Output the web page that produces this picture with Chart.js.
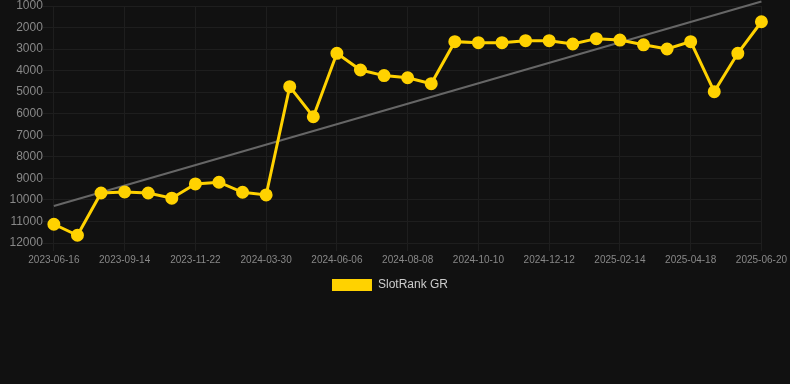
<!DOCTYPE html>
<html>
<head>
<meta charset="utf-8">
<script src="https://cdn.jsdelivr.net/npm/chart.js@4/dist/chart.umd.min.js"></script>
<style>
  html, body { margin: 0; padding: 0; background: #111111; }
  #wrap { width: 790px; height: 301px; position: relative; }
</style>
</head>
<body>
<div id="wrap"><canvas id="c"></canvas></div>
<script>
const dates = [
  '2023-06-16','2023-07-17','2023-08-15','2023-09-14','2023-10-13','2023-10-31',
  '2023-11-22','2024-01-05','2024-02-20','2024-03-30','2024-04-28','2024-05-17',
  '2024-06-06','2024-06-27','2024-07-18','2024-08-08','2024-08-29','2024-09-19',
  '2024-10-10','2024-10-31','2024-11-21','2024-12-12','2025-01-02','2025-01-24',
  '2025-02-14','2025-03-07','2025-03-28','2025-04-18','2025-05-09','2025-05-30',
  '2025-06-20'
];
const rankValues = [
  11130, 11640, 9680, 9630, 9680, 9920,
  9260, 9180, 9645, 9770, 4745, 6140,
  3195, 3970, 4230, 4330, 4605, 2655,
  2700, 2700, 2610, 2610, 2765, 2515,
  2580, 2800, 2995, 2655, 4975, 3195,
  1730
];
const trendStart = 10280;
const trendEnd = 790;
const yTicks = [1000,2000,3000,4000,5000,6000,7000,8000,9000,10000,11000,12000];
const seriesName = 'SlotRank GR';

const FONT = "'Liberation Sans', Arial, sans-serif";
const GRID = '#1e1e1e';

new Chart(document.getElementById('c'), {
  type: 'line',
  data: {
    labels: dates,
    datasets: [
      {
        label: seriesName,
        data: rankValues,
        borderColor: '#FFD200',
        backgroundColor: '#FFD200',
        pointBackgroundColor: '#FFD200',
        pointBorderColor: '#FFD200',
        borderWidth: 3,
        pointRadius: 5,
        pointHoverRadius: 6,
        tension: 0,
        clip: false,
        order: 1
      },
      {
        label: 'trend',
        data: [{x: dates[0], y: trendStart}, {x: dates[dates.length - 1], y: trendEnd}],
        borderColor: '#666666',
        backgroundColor: '#666666',
        borderWidth: 2,
        pointRadius: 0,
        pointHoverRadius: 0,
        clip: false,
        order: 2
      }
    ]
  },
  options: {
    responsive: true,
    maintainAspectRatio: false,
    animation: false,
    layout: { autoPadding: false, padding: { left: 0, top: 0, right: 10, bottom: 0 } },
    plugins: {
      legend: {
        position: 'bottom',
        labels: {
          color: '#cccccc',
          font: { family: FONT, size: 12 },
          boxWidth: 40,
          boxHeight: 12,
          filter: (item) => item.datasetIndex === 0,
          generateLabels: (chart) => {
            const items = Chart.defaults.plugins.legend.labels.generateLabels(chart);
            items.forEach(it => { it.lineWidth = 0; });
            return items;
          }
        }
      },
      tooltip: { enabled: false }
    },
    scales: {
      x: {
        type: 'category',
        grid: { color: GRID, tickLength: 8 },
        border: { color: GRID },
        ticks: {
          autoSkip: false,
          maxRotation: 0,
          color: '#888888',
          font: { family: FONT, size: 10 },
          callback: function(v, i) { return i % 3 === 0 ? this.getLabelForValue(v) : null; }
        }
      },
      y: {
        reverse: true,
        min: yTicks[0],
        max: yTicks[yTicks.length - 1],
        afterBuildTicks: (scale) => { scale.ticks = yTicks.map(v => ({ value: v })); },
        afterFit: (scale) => { scale.width += 9.5; },
        grid: { color: GRID, tickLength: 11 },
        border: { color: GRID },
        ticks: {
          padding: 0,
          color: '#888888',
          font: { family: FONT, size: 12, lineHeight: 1 },
          callback: (v) => String(v)
        }
      }
    }
  }
});
</script>
</body>
</html>
